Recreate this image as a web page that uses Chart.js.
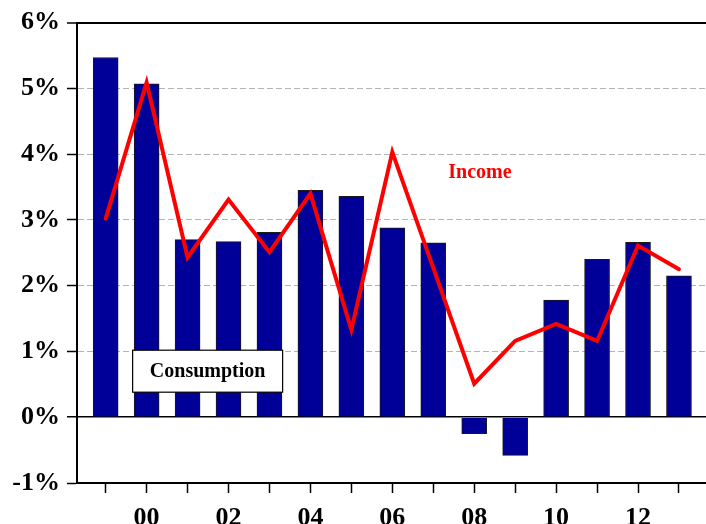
<!DOCTYPE html>
<html>
<head>
<meta charset="utf-8">
<script src="https://cdn.jsdelivr.net/npm/chart.js@4.4.0/dist/chart.umd.min.js"></script>
<style>
  body { margin: 0; background: #fff; }
  #wrap { width: 706px; height: 524px; }
</style>
</head>
<body>
<div id="wrap"><canvas id="growthChart" width="706" height="524"></canvas></div>
<script>
// DATA
const years = [1999, 2000, 2001, 2002, 2003, 2004, 2005, 2006, 2007, 2008, 2009, 2010, 2011, 2012, 2013];
const consumption = [5.47, 5.07, 2.70, 2.67, 2.81, 3.45, 3.36, 2.88, 2.65, -0.25, -0.58, 1.78, 2.40, 2.66, 2.15];
const income = [3.02, 5.09, 2.43, 3.31, 2.51, 3.40, 1.33, 4.03, 2.27, 0.51, 1.16, 1.42, 1.16, 2.61, 2.25];
const yTicks = [-1, 0, 1, 2, 3, 4, 5, 6];

const serif = '"Liberation Serif", "Times New Roman", serif';

// text labels for the two series, placed in data units
const seriesLabels = {
    id: 'seriesLabels',
    afterDatasetsDraw(chart) {
        const { ctx, scales: { x, y } } = chart;
        ctx.save();
        ctx.textAlign = 'center';
        ctx.textBaseline = 'middle';

        // Consumption box
        ctx.font = 'bold 20px ' + serif;
        const cx = x.getPixelForValue(2001.49);
        const cy = y.getPixelForValue(0.70);
        const w = 150, h = 42;
        ctx.fillStyle = '#fff';
        ctx.fillRect(cx - w / 2, cy - h / 2, w, h);
        ctx.strokeStyle = '#000';
        ctx.lineWidth = 1.2;
        ctx.strokeRect(cx - w / 2, cy - h / 2, w, h);
        ctx.fillStyle = '#000';
        ctx.fillText('Consumption', cx, cy + 1);

        // Income
        ctx.fillStyle = '#ff0000';
        ctx.fillText('Income', x.getPixelForValue(2008.14), y.getPixelForValue(3.72));
        ctx.restore();
    }
};

const ctx = document.getElementById('growthChart');
const growthChart = new Chart(ctx, {
    type: 'bar',
    data: {
        datasets: [{
            type: 'line',
            label: 'Income',
            data: years.map((yr, i) => ({ x: yr, y: income[i] })),
            borderColor: '#ff0000',
            borderWidth: 4,
            borderCapStyle: 'round',
            borderJoinStyle: 'miter',
            pointRadius: 0,
            tension: 0,
            order: 0
        }, {
            label: 'Consumption',
            data: years.map((yr, i) => ({ x: yr, y: consumption[i] })),
            backgroundColor: '#000099',
            borderColor: '#1a1a1a',
            borderWidth: 1,
            barThickness: 25,
            order: 1
        }]
    },
    options: {
        responsive: false,
        animation: false,
        layout: { padding: { top: 19, right: 0, left: 0, bottom: 0 } },
        plugins: {
            legend: { display: false },
            tooltip: { enabled: false }
        },
        scales: {
            x: {
                type: 'linear',
                min: 1998.3,
                max: 2013.66,
                offset: false,
                afterFit: scale => { scale.height = 41; },
                ticks: {
                    stepSize: 1,
                    includeBounds: false,
                    autoSkip: false,
                    maxRotation: 0,
                    padding: 10,
                    color: '#000',
                    font: { family: serif, size: 26, weight: 'bold' },
                    callback: v => (v % 2 === 0 ? String(v).slice(2) : '')
                },
                grid: {
                    offset: false,
                    drawOnChartArea: false,
                    drawTicks: true,
                    tickLength: 10,
                    tickColor: '#000',
                    tickWidth: 1.5
                },
                border: { display: true, color: '#000', width: 2 }
            },
            y: {
                min: -1,
                max: 6,
                afterFit: scale => { scale.width = 77; },
                afterBuildTicks: scale => { scale.ticks = yTicks.map(v => ({ value: v })); },
                ticks: {
                    padding: 7,
                    color: '#000',
                    font: { family: serif, size: 26, weight: 'bold' },
                    callback: v => v + '%'
                },
                grid: {
                    color: c => (c.tick && (c.tick.value === 6 || c.tick.value === 0)) ? '#000'
                        : (c.tick && c.tick.value === -1 ? 'rgba(0,0,0,0)' : '#b4b4b4'),
                    lineWidth: c => (c.tick && c.tick.value === 6) ? 2 : (c.tick && c.tick.value === 0 ? 1.5 : 1),
                    tickLength: 10,
                    tickColor: '#000',
                    tickWidth: 1.5,
                    tickBorderDash: []
                },
                border: {
                    display: true,
                    color: '#000',
                    width: 2,
                    dash: c => (c.tick && (c.tick.value === 6 || c.tick.value === 0)) ? [] : [6, 3]
                }
            }
        }
    },
    plugins: [seriesLabels]
});
</script>
</body>
</html>
